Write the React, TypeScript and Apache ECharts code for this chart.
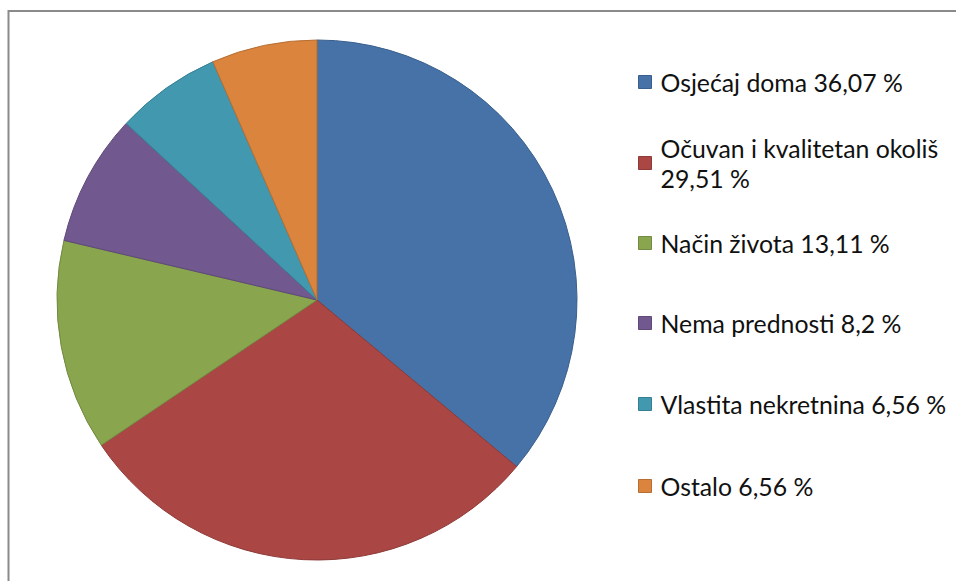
import React, { useEffect, useRef } from "react";
import * as echarts from "echarts";

const categories = [
  "Osjećaj doma",
  "Očuvan i kvalitetan okoliš",
  "Način života",
  "Nema prednosti",
  "Vlastita nekretnina",
  "Ostalo",
];
const values = [36.07, 29.51, 13.11, 8.2, 6.56, 6.56];
const valueLabels = ["36,07", "29,51", "13,11", "8,2", "6,56", "6,56"];
const colors = ["#4672A8", "#AA4643", "#89A54E", "#71588F", "#4198AF", "#DB843D"];
const borderColors = ["#3A5F8C", "#8E3A38", "#728A41", "#5E4977", "#367F92", "#B76E33"];
// legend row centers (first line)
const legendCenters = [82, 163, 243, 323, 404, 486];

export default function App() {
  const ref = useRef<HTMLDivElement>(null);
  useEffect(() => {
    if (!ref.current) return;
    const chart = echarts.init(ref.current, undefined, { renderer: "svg" });
    const font = "Lato";
    const fontSize = 24.8;
    const legends = categories.map((name, i) => {
      const twoLine = i === 1;
      return {
        show: true,
        data: [name],
        orient: "vertical",
        left: 638,
        top: twoLine ? legendCenters[i] - 45 : legendCenters[i] - 15,
        padding: 0,
        icon: "rect",
        itemWidth: 13,
        itemHeight: 13,
        selectedMode: false,
        itemStyle: { borderWidth: 1, borderColor: borderColors[i] },
        formatter: (n: string) => {
          const idx = categories.indexOf(n);
          return twoLine
            ? `${n}\n${valueLabels[idx]} %`
            : `${n} ${valueLabels[idx]} %`;
        },
        textStyle: {
          fontFamily: font,
          fontSize,
          color: "#111",
          lineHeight: 30,
          padding: twoLine ? [30, 0, 0, 4] : [0, 0, 0, 4],
        },
      };
    });
    chart.setOption({
      animation: false,
      color: colors,
      graphic: [
        {
          type: "rect",
          shape: { x: 8.5, y: 11, width: 1200, height: 1200 },
          style: { fill: "none", stroke: "#8A8A8A", lineWidth: 2 },
          silent: true,
        },
      ],
      legend: legends,
      series: [
        {
          type: "pie",
          center: [317, 300],
          radius: 260,
          startAngle: 90,
          clockwise: true,
          label: { show: false },
          labelLine: { show: false },
          emphasis: { disabled: true },
          data: categories.map((name, i) => ({
            name,
            value: values[i],
            itemStyle: { color: colors[i], borderColor: borderColors[i], borderWidth: 1 },
          })),
        },
      ],
    });
    return () => chart.dispose();
  }, []);
  return (
    <div
      ref={ref}
      style={{ position: "absolute", left: 0, top: 0, width: 956, height: 581, background: "#fff" }}
    />
  );
}
